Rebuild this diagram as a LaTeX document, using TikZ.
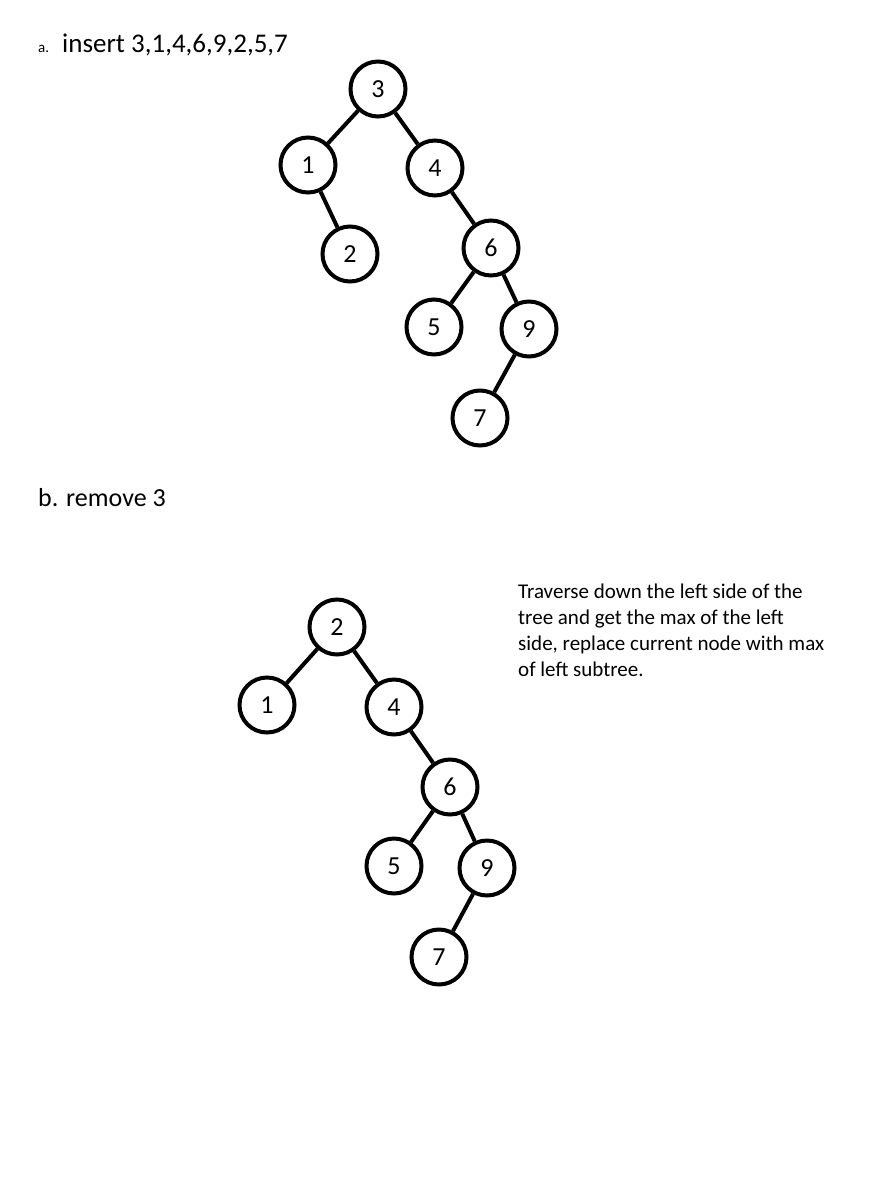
\documentclass[tikz,border=0pt]{standalone}
\usepackage{fontspec}
\setmainfont{Carlito}
\begin{document}
\begin{tikzpicture}[x=1pt,y=-1pt,
  bst/.style={circle,draw=black,line width=4pt,minimum size=55pt,inner sep=0pt,font=\fontsize{26}{30}\selectfont},
  edge/.style={draw=black,line width=4pt},
  lbl/.style={anchor=base west,inner sep=0pt}]
\fill[white] (0,0) rectangle (877,1184);
\useasboundingbox (0,0) rectangle (877,1184);
% headings
\node[lbl,font=\fontsize{15}{18}\selectfont] (ha) at (38,52) {a.};
\node[lbl,font=\fontsize{27}{32}\selectfont] (hins) at (62,52) {insert 3,1,4,6,9,2,5,7};
\node[lbl,font=\fontsize{26}{30}\selectfont] (hb) at (38,506) {b. remove 3};
\node[anchor=north west,inner sep=0pt,align=left,font=\fontsize{21}{26}\selectfont] (note) at (518,584)
  {Traverse down the left side of the\\tree and get the max of the left\\side, replace current node with max\\of left subtree.};
% tree a
\node[bst] (a3) at (378,89) {3};
\node[bst] (a1) at (308,165) {1};
\node[bst] (a4) at (435,168) {4};
\node[bst] (a2) at (350,254) {2};
\node[bst] (a6) at (491,248) {6};
\node[bst] (a5) at (434,327) {5};
\node[bst] (a9) at (529,329) {9};
\node[bst] (a7) at (480,418) {7};
\draw[edge] (a3) -- (a1);
\draw[edge] (a3) -- (a4);
\draw[edge] (a1) -- (a2);
\draw[edge] (a4) -- (a6);
\draw[edge] (a6) -- (a5);
\draw[edge] (a6) -- (a9);
\draw[edge] (a9) -- (a7);
% tree b
\node[bst] (b2) at (337,627) {2};
\node[bst] (b1) at (267,705) {1};
\node[bst] (b4) at (394,707) {4};
\node[bst] (b6) at (450,787) {6};
\node[bst] (b5) at (394,866) {5};
\node[bst] (b9) at (487,868) {9};
\node[bst] (b7) at (439,957) {7};
\draw[edge] (b2) -- (b1);
\draw[edge] (b2) -- (b4);
\draw[edge] (b4) -- (b6);
\draw[edge] (b6) -- (b5);
\draw[edge] (b6) -- (b9);
\draw[edge] (b9) -- (b7);
\end{tikzpicture}
\end{document}
